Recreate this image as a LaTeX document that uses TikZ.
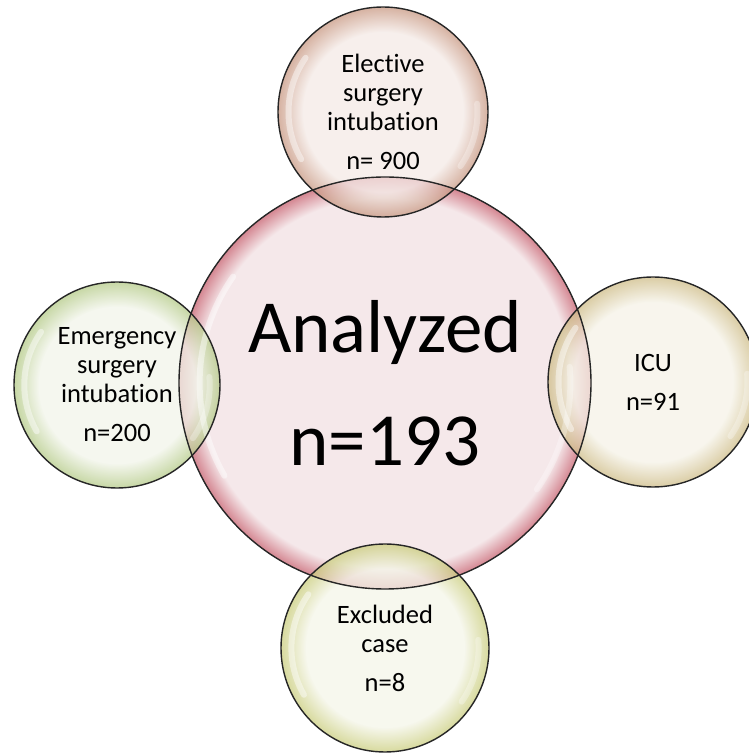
\documentclass[tikz,border=0pt]{standalone}
\usepackage{fontspec}
\setmainfont{Carlito}[Ligatures=NoCommon]
\usepackage{tikz}
\definecolor{mainin}{RGB}{245,232,234}
\definecolor{mainout}{RGB}{212,134,145}
\definecolor{elecin}{RGB}{244,234,230}
\definecolor{elecout}{RGB}{200,152,130}
\definecolor{emerin}{RGB}{241,244,233}
\definecolor{emerout}{RGB}{180,202,135}
\definecolor{icuin}{RGB}{245,242,231}
\definecolor{icuout}{RGB}{206,188,135}
\definecolor{exclin}{RGB}{244,245,232}
\definecolor{exclout}{RGB}{202,205,125}
\pgfdeclareradialshading{mainbub}{\pgfpoint{0bp}{0bp}}{color(0bp)=(mainin); color(22.5bp)=(mainin); color(25bp)=(mainout); color(50bp)=(mainout)}
\pgfdeclareradialshading{elecbub}{\pgfpoint{0bp}{0bp}}{color(0bp)=(elecin); color(19bp)=(elecin); color(25bp)=(elecout); color(50bp)=(elecout)}
\pgfdeclareradialshading{emerbub}{\pgfpoint{0bp}{0bp}}{color(0bp)=(emerin); color(19bp)=(emerin); color(25bp)=(emerout); color(50bp)=(emerout)}
\pgfdeclareradialshading{icubub}{\pgfpoint{0bp}{0bp}}{color(0bp)=(icuin); color(19bp)=(icuin); color(25bp)=(icuout); color(50bp)=(icuout)}
\pgfdeclareradialshading{exclbub}{\pgfpoint{0bp}{0bp}}{color(0bp)=(exclin); color(19bp)=(exclin); color(25bp)=(exclout); color(50bp)=(exclout)}

\begin{document}
\begin{tikzpicture}[
    x=1pt, y=1pt,
    every node/.style={font=\fontsize{26.5}{29}\selectfont, align=center, text=black},
    bubble/.style={circle, inner sep=0pt, minimum size=#1, fill opacity=0.75, text opacity=1},
    rim/.style={draw=black!85, line width=1.4pt},
    gloss/.style={draw=white, line width=6pt, line cap=round, opacity=0.45},
]
    \useasboundingbox (0,0) rectangle (749,753);

    \node[bubble=412pt, shading=mainbub, fill opacity=1, font=\fontsize{75}{90}\selectfont] (analyzed) at (385,370) {Analyzed\\[23pt]n=193};
    \node[bubble=210pt, shading=elecbub] (elective) at (383,641) {Elective\\surgery\\intubation\\[10pt]n= 900};
    \node[bubble=206pt, shading=emerbub] (emergency) at (117,368) {Emergency\\surgery\\intubation\\[10pt]n=200};
    \node[bubble=210pt, shading=icubub] (icu) at (653,371) {ICU\\[10pt]n=91};
    \node[bubble=208pt, shading=exclbub] (excluded) at (385,105) {Excluded\\case\\[10pt]n=8};

    \foreach \n/\r in {analyzed/206, elective/105, emergency/103, icu/105, excluded/104} {
        \draw[gloss] (\n) ++(145:0.9*\r) arc[start angle=145, end angle=210, radius=0.9*\r];
        \draw[gloss, opacity=0.3] (\n) ++(-35:0.9*\r) arc[start angle=-35, end angle=5, radius=0.9*\r];
        \draw[rim] (\n) circle[radius=\r];
    }
\end{tikzpicture}
\end{document}
